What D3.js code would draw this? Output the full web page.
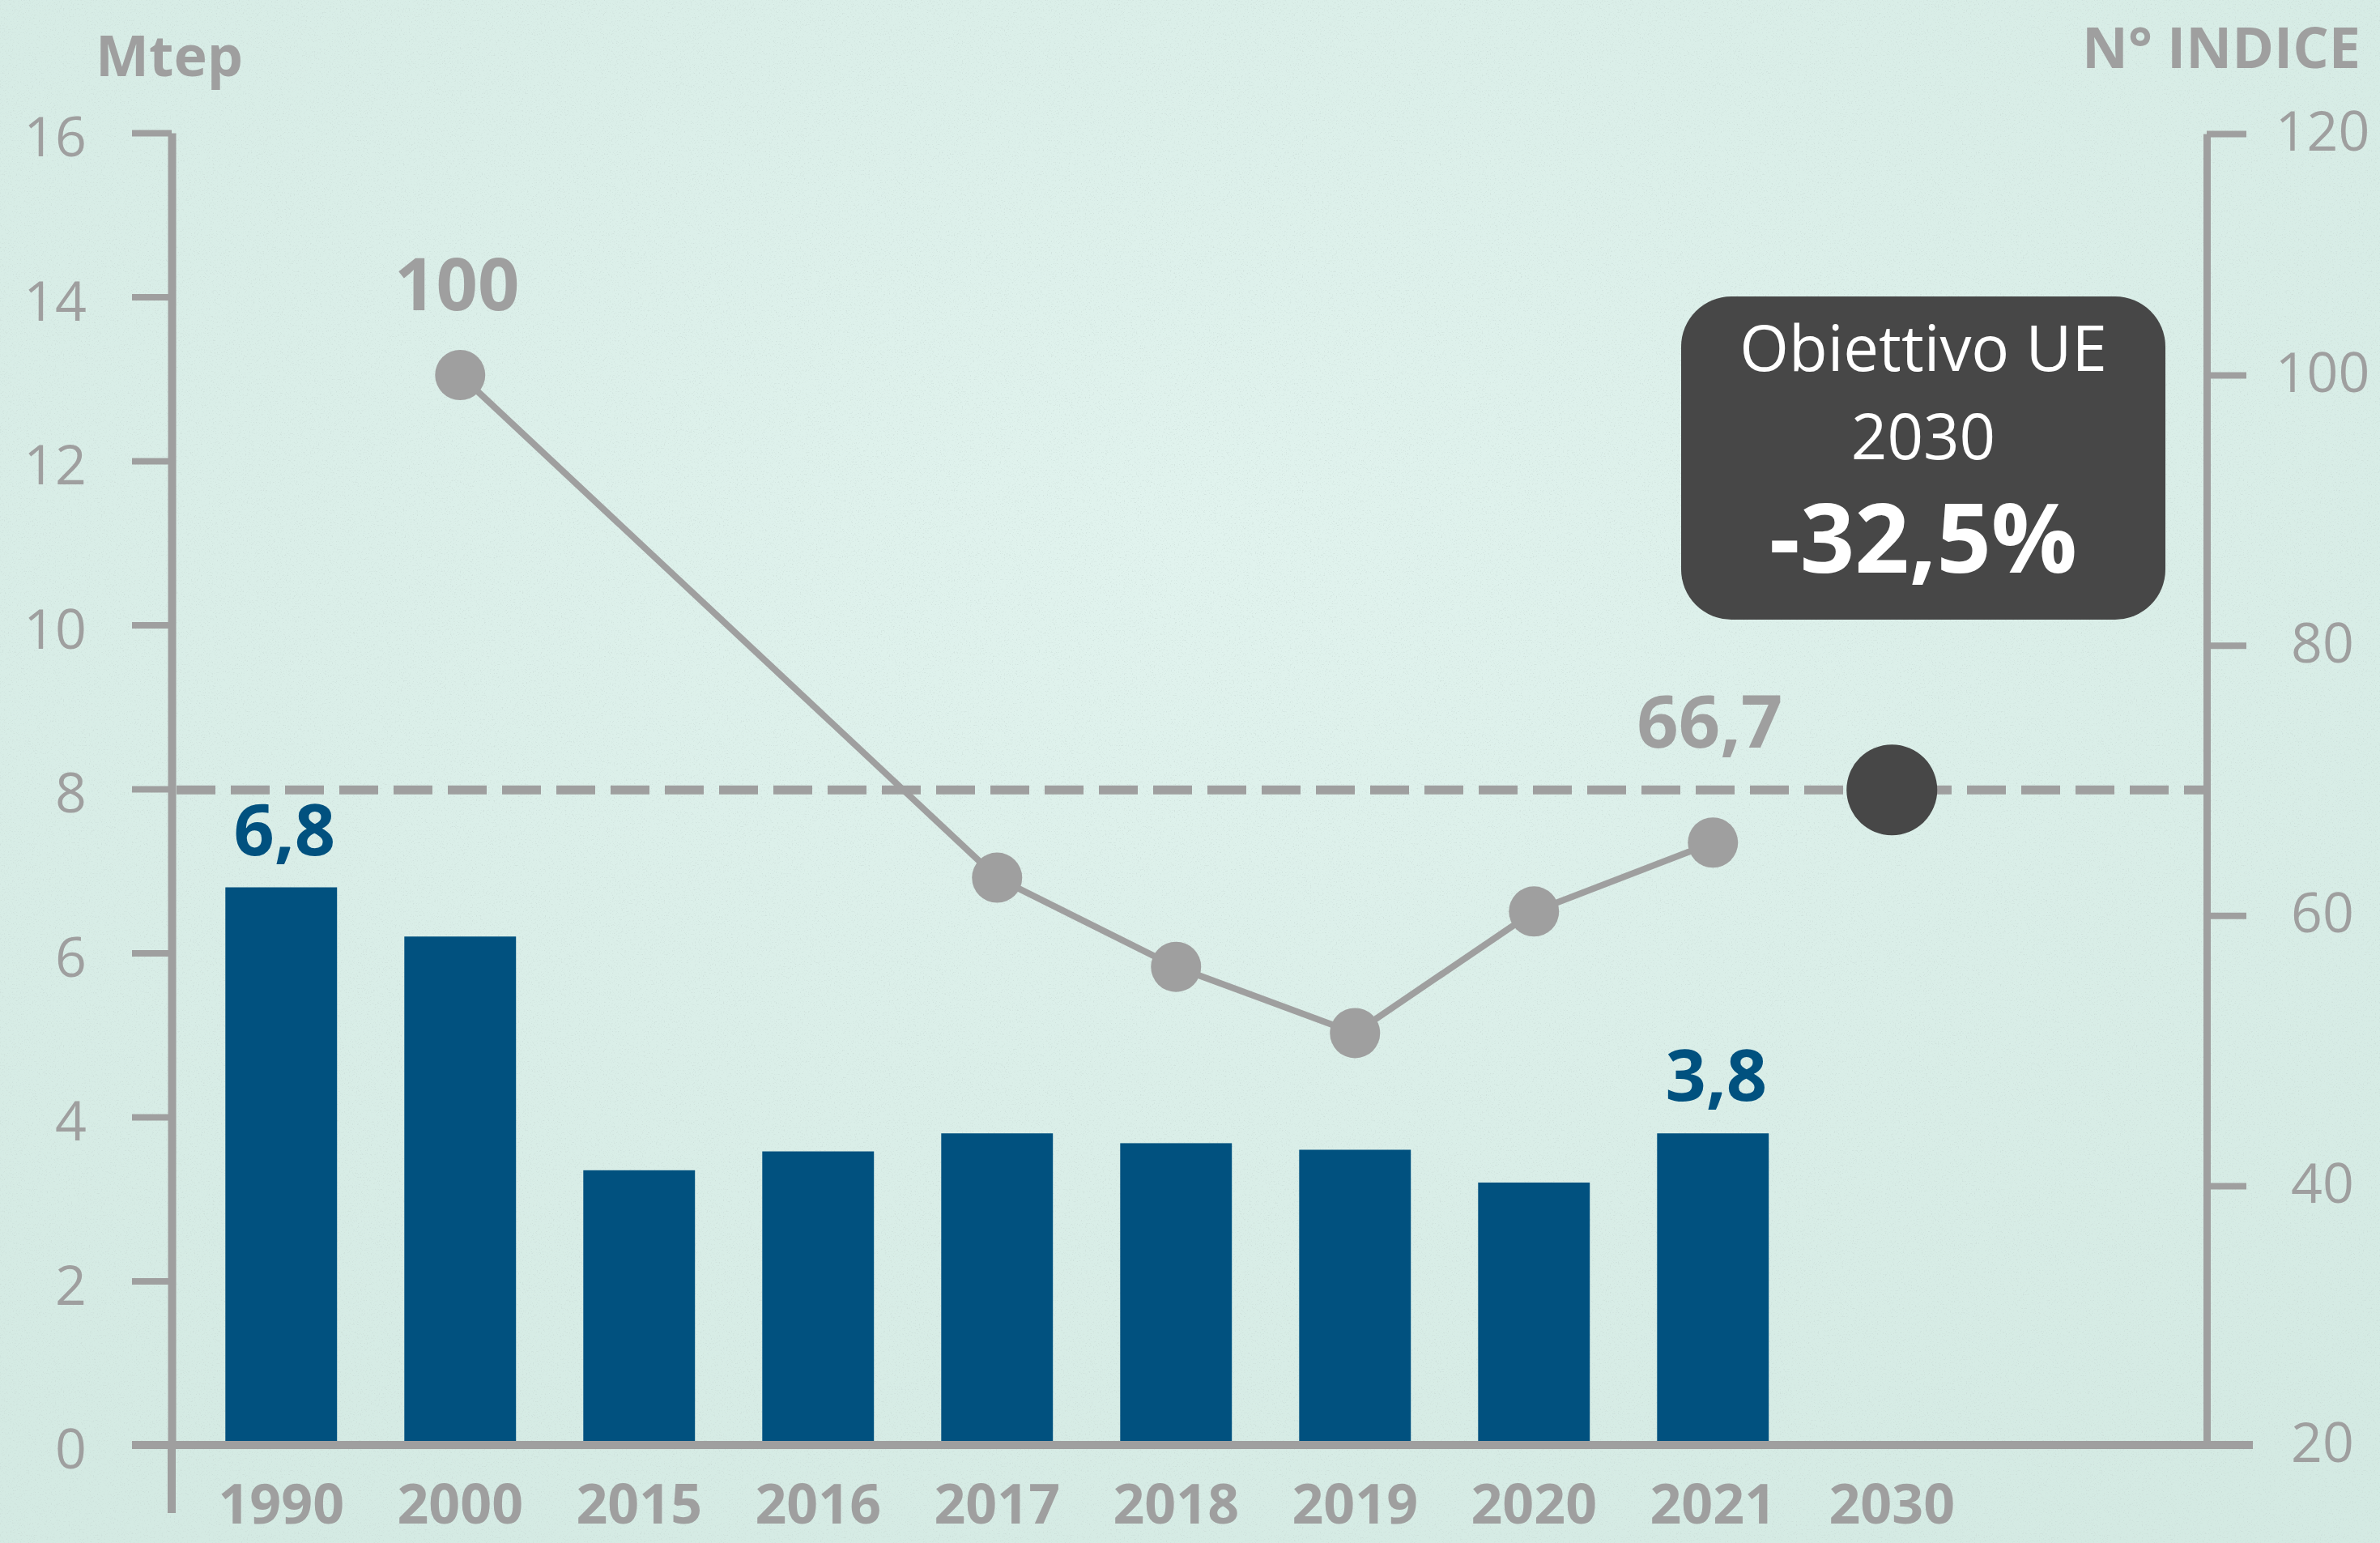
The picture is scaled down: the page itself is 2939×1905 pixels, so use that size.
<!DOCTYPE html>
<html><head><meta charset="utf-8">
<script src="https://cdn.jsdelivr.net/npm/d3@7"></script>
<style>
html,body{margin:0;padding:0;background:#d9eee7;}
svg{display:block;}
</style>
</head><body>
<svg id="chart" width="2939" height="1905"></svg>
<script>
// ---------- DATA ----------
const years = ["1990","2000","2015","2016","2017","2018","2019","2020","2021","2030"];
const barYears = ["1990","2000","2015","2016","2017","2018","2019","2020","2021"];
const mtepValues = [6.8, 6.2, 3.35, 3.58, 3.8, 3.68, 3.6, 3.2, 3.8];
const barLabelYears = ["1990","2021"];
const barLabelTexts = ["6,8","3,8"];
const indexYears = ["2000","2017","2018","2019","2020","2021"];
const indexValues = [100, 62.8, 56.2, 51.3, 60.3, 65.4];
const indexLabelYears = ["2000","2021"];
const indexLabelTexts = ["100","66,7"];
const targetYear = "2030";
const targetIndex = 69.3;
const calloutLines = ["Obiettivo UE","2030","-32,5%"];
const leftTicks = [0,2,4,6,8,10,12,14,16];
const rightTicks = [20,40,60,80,100,120];
const leftTitle = "Mtep";
const rightTitle = "N\u00B0 INDICE";

// ---------- LAYOUT ----------
const W = 2939, H = 1905;
const L = 212, R = 2725, B = 1784, T = 164;
const FONT = "'Open Sans', 'Noto Sans', sans-serif";
const GREY = "#9f9f9f";
const BLUE = "#01517f";
const DARK = "#474747";

const svg = d3.select("#chart");

// background + subtle texture
const defs = svg.append("defs");
const rg = defs.append("radialGradient").attr("id","bg").attr("cx","50%").attr("cy","35%").attr("r","75%");
rg.append("stop").attr("offset","0%").attr("stop-color","#e1f3ee");
rg.append("stop").attr("offset","100%").attr("stop-color","#d4eae3");
const f = defs.append("filter").attr("id","grain").attr("x",0).attr("y",0).attr("width","100%").attr("height","100%");
f.append("feTurbulence").attr("type","fractalNoise").attr("baseFrequency","0.6").attr("numOctaves",2).attr("seed",7).attr("result","n");
f.append("feColorMatrix").attr("in","n").attr("type","matrix")
  .attr("values","0 0 0 0 0.55  0 0 0 0 0.66  0 0 0 0 0.63  5 0 0 0 -2.9");
svg.append("rect").attr("width",W).attr("height",H).attr("fill","url(#bg)");
svg.append("rect").attr("width",W).attr("height",H).attr("filter","url(#grain)").attr("opacity",0.45);

// scales
const step = 221, pin = 0.376, pout = 0.3;
const x = d3.scaleBand().domain(years)
  .range([L, L + step * (years.length - pin + 2 * pout)])
  .paddingInner(pin).paddingOuter(pout);
const bw = x.bandwidth();
const cx = d => x(d) + bw / 2;
const yL = d3.scaleLinear().domain([0, 16]).range([B, T]);
const yR = d3.scaleLinear().domain([20, 40, 100, 120]).range([B, 1464, 463, T + 1]);

// bars
const bars = barYears.map((y, i) => ({year: y, v: mtepValues[i]}));
svg.append("g").selectAll("rect").data(bars).join("rect")
  .attr("x", d => x(d.year)).attr("width", bw)
  .attr("y", d => yL(d.v)).attr("height", d => B - yL(d.v))
  .attr("fill", BLUE);

// bar labels
svg.append("g").selectAll("text").data(barLabelYears).join("text")
  .attr("x", d => cx(d) + 4)
  .attr("y", (d, i) => yL(mtepValues[barYears.indexOf(d)]) - 40)
  .attr("text-anchor","middle").attr("font-family",FONT).attr("font-weight",700)
  .attr("font-size",88).attr("fill",BLUE)
  .text((d, i) => barLabelTexts[i]);

// left axis
const axL = d3.axisLeft(yL).tickValues(leftTicks).tickSize(49).tickSizeOuter(0).tickPadding(56);
const gL = svg.append("g").attr("transform", `translate(${L},0)`).call(axL);
gL.select(".domain").attr("stroke", GREY).attr("stroke-width", 10);
gL.selectAll(".tick line").attr("stroke", GREY).attr("stroke-width", 8);
gL.selectAll(".tick text").attr("fill", GREY).attr("font-size", 68).attr("font-family", FONT).attr("dy","0.42em");
svg.append("line").attr("x1", L).attr("x2", L).attr("y1", B).attr("y2", 1868)
  .attr("stroke", GREY).attr("stroke-width", 10);

// right axis
const axR = d3.axisRight(yR).tickValues(rightTicks).tickSize(49).tickSizeOuter(0);
const gR = svg.append("g").attr("transform", `translate(${R},0)`).call(axR);
gR.select(".domain").attr("stroke", GREY).attr("stroke-width", 9);
gR.selectAll(".tick line").attr("stroke", GREY).attr("stroke-width", 8);
gR.selectAll(".tick text").attr("fill", GREY).attr("font-size", 68).attr("font-family", FONT)
  .attr("text-anchor","middle").attr("x", 143).attr("dy","0.3em");

// baseline
svg.append("line").attr("x1", L - 49).attr("x2", R + 57).attr("y1", B).attr("y2", B)
  .attr("stroke", GREY).attr("stroke-width", 10);

// x labels
svg.append("g").selectAll("text").data(years).join("text")
  .attr("x", d => cx(d)).attr("y", 1881)
  .attr("text-anchor","middle").attr("font-family",FONT).attr("font-weight",700)
  .attr("font-size",68).attr("fill",GREY).text(d => d);

// dashed target line
const yT = yR(targetIndex);
svg.append("line").attr("x1", L + 6).attr("x2", R - 4).attr("y1", yT).attr("y2", yT)
  .attr("stroke", GREY).attr("stroke-width", 11).attr("stroke-dasharray","48,19");

// index line
const pts = indexYears.map((y, i) => ({year: y, v: indexValues[i]}));
svg.append("path").datum(pts)
  .attr("d", d3.line().x(d => cx(d.year)).y(d => yR(d.v)))
  .attr("fill","none").attr("stroke", GREY).attr("stroke-width", 8);
svg.append("g").selectAll("circle").data(pts).join("circle")
  .attr("cx", d => cx(d.year)).attr("cy", d => yR(d.v)).attr("r", 31).attr("fill", GREY);

// index labels
const lift = {"2000": 80, "2021": 117};
svg.append("g").selectAll("text").data(indexLabelYears).join("text")
  .attr("x", d => cx(d) - 4)
  .attr("y", d => yR(indexValues[indexYears.indexOf(d)]) - lift[d])
  .attr("text-anchor","middle").attr("font-family",FONT).attr("font-weight",700)
  .attr("font-size",90).attr("fill",GREY)
  .text((d, i) => indexLabelTexts[i]);

// target dot
svg.append("circle").attr("cx", cx(targetYear)).attr("cy", yT).attr("r", 56).attr("fill", DARK);

// callout box
const bx = 2375;
svg.append("rect").attr("x", bx - 299).attr("y", 366).attr("width", 598).attr("height", 399)
  .attr("rx", 62).attr("ry", 62).attr("fill", DARK);
const cy = [458, 567, 707], cs = [78, 78, 118], cw = [400, 400, 700];
svg.append("g").selectAll("text").data(calloutLines).join("text")
  .attr("x", bx).attr("y", (d, i) => cy[i])
  .attr("text-anchor","middle").attr("font-family",FONT)
  .attr("font-weight", (d, i) => cw[i]).attr("font-size", (d, i) => cs[i])
  .attr("fill","#ffffff").text(d => d);

// axis titles
svg.append("text").attr("x", 118).attr("y", 94).attr("font-family",FONT).attr("font-weight",700)
  .attr("font-size",70).attr("fill",GREY).text(leftTitle);
svg.append("text").attr("x", 2915).attr("y", 84).attr("text-anchor","end").attr("font-family",FONT)
  .attr("font-weight",700).attr("font-size",70).attr("fill",GREY).text(rightTitle);
</script>
</body></html>
